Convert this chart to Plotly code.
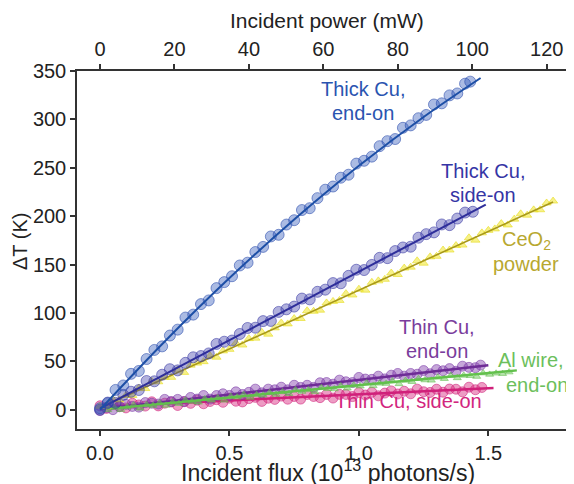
import plotly.graph_objects as go

# ---------------- data ----------------
# Thick Cu, end-on
thick_end_x = [0.00, 0.03, 0.06, 0.09, 0.12, 0.15, 0.18, 0.21, 0.24, 0.27, 0.30, 0.33, 0.36, 0.39, 0.42,
               0.45, 0.48, 0.51, 0.54, 0.57, 0.60, 0.63, 0.66, 0.69, 0.72, 0.75, 0.78, 0.81, 0.84, 0.87,
               0.90, 0.93, 0.96, 0.99, 1.02, 1.05, 1.08, 1.11, 1.14, 1.17, 1.20, 1.23, 1.26, 1.29, 1.32,
               1.35, 1.38, 1.41, 1.43]
thick_end_y = [1.5, 6.7, 20.4, 25.0, 37.0, 40.0, 52.3, 61.7, 65.4, 76.6, 82.7, 95.2, 98.2, 109.1, 112.9,
               125.6, 131.8, 137.9, 149.0, 151.9, 162.9, 168.2, 179.0, 180.7, 191.3, 195.8, 206.3, 208.2,
               218.6, 227.3, 230.6, 239.7, 242.8, 254.3, 257.2, 261.5, 272.3, 277.5, 279.7, 291.3, 293.8,
               301.2, 304.6, 315.4, 316.6, 324.8, 326.8, 336.9, 339.0]
thick_end_fit_x = [0.0, 0.25, 0.5, 0.75, 1.0, 1.25, 1.47]
thick_end_fit_y = [0.0, 70.5, 136.0, 196.5, 252.0, 302.5, 342.8]

# Thick Cu, side-on
thick_side_x = [0.00, 0.03, 0.06, 0.09, 0.12, 0.15, 0.18, 0.21, 0.24, 0.27, 0.30, 0.33, 0.36, 0.39, 0.42,
                0.45, 0.48, 0.51, 0.54, 0.57, 0.60, 0.63, 0.66, 0.69, 0.72, 0.75, 0.78, 0.81, 0.84, 0.87,
                0.90, 0.93, 0.96, 0.99, 1.02, 1.05, 1.08, 1.11, 1.14, 1.17, 1.20, 1.23, 1.26, 1.29, 1.32,
                1.35, 1.38, 1.41, 1.44]
thick_side_y = [0.0, 7.3, 7.0, 15.3, 18.5, 20.3, 29.6, 29.3, 36.1, 41.8, 40.6, 48.4, 54.1, 55.4, 58.1,
                67.9, 70.2, 71.4, 78.2, 84.4, 84.7, 91.5, 91.7, 101.0, 103.7, 106.5, 114.8, 114.0, 121.8,
                124.0, 130.8, 130.6, 138.3, 144.6, 144.3, 149.6, 156.9, 156.6, 163.9, 167.6, 168.4, 177.7,
                181.4, 183.2, 191.4, 190.7, 197.5, 203.7, 204.5]
thick_side_fit_x = [0.0, 1.49]
thick_side_fit_y = [1.0, 212.0]

# CeO2 powder
ceo2_x = [0.000, 0.025, 0.050, 0.075, 0.100, 0.125, 0.150, 0.175, 0.200, 0.225, 0.250, 0.275, 0.300, 0.325,
          0.350, 0.375, 0.400, 0.425, 0.450, 0.475, 0.500, 0.525, 0.550, 0.575, 0.600, 0.625, 0.650, 0.675,
          0.700, 0.725, 0.750, 0.775, 0.800, 0.825, 0.850, 0.875, 0.900, 0.925, 0.950, 0.975, 1.000, 1.025,
          1.050, 1.075, 1.100, 1.125, 1.150, 1.175, 1.200, 1.225, 1.250, 1.275, 1.300, 1.325, 1.350, 1.375,
          1.400, 1.425, 1.450, 1.475, 1.500, 1.525, 1.550, 1.575, 1.600, 1.625, 1.650, 1.675, 1.700, 1.725,
          1.750]
ceo2_y = [3.5, 3.0, 10.6, 10.1, 14.7, 14.7, 22.2, 21.8, 29.3, 28.8, 33.4, 33.4, 41.0, 38.5, 46.0, 48.1,
          49.6, 55.6, 54.2, 60.7, 62.3, 68.8, 66.8, 73.4, 73.9, 79.9, 78.0, 84.5, 89.6, 88.6, 94.1, 94.2,
          102.2, 101.7, 102.8, 110.3, 111.9, 112.9, 119.9, 118.5, 124.5, 123.5, 131.6, 133.1, 134.7, 141.2,
          139.7, 146.3, 147.3, 153.8, 151.4, 157.9, 158.5, 165.0, 165.0, 169.6, 170.1, 177.6, 175.2, 182.7,
          185.3, 186.8, 192.3, 190.9, 196.9, 202.4, 201.0, 206.5, 206.6, 213.6, 215.6]
ceo2_fit_x = [0.0, 1.75]
ceo2_fit_y = [2.0, 214.6]

# Thin Cu, end-on
thin_end_x = [0.000, 0.025, 0.050, 0.075, 0.100, 0.125, 0.150, 0.175, 0.200, 0.225, 0.250, 0.275, 0.300,
              0.325, 0.350, 0.375, 0.400, 0.425, 0.450, 0.475, 0.500, 0.525, 0.550, 0.575, 0.600, 0.625,
              0.650, 0.675, 0.700, 0.725, 0.750, 0.775, 0.800, 0.825, 0.850, 0.875, 0.900, 0.925, 0.950,
              0.975, 1.000, 1.025, 1.050, 1.075, 1.100, 1.125, 1.150, 1.175, 1.200, 1.225, 1.250, 1.275,
              1.300, 1.325, 1.350, 1.375, 1.400, 1.425, 1.450, 1.470]
thin_end_y = [-1.0, 2.3, 0.0, 3.3, 5.5, 3.3, 2.6, 7.3, 6.6, 5.8, 10.6, 8.3, 10.6, 8.4, 12.6, 10.9, 14.6,
              10.9, 14.6, 16.4, 14.7, 18.4, 15.7, 17.9, 21.2, 17.4, 21.2, 20.5, 23.2, 20.5, 25.2, 23.0, 25.2,
              23.0, 27.8, 28.0, 26.3, 30.5, 28.8, 28.0, 33.3, 31.6, 31.3, 34.6, 31.8, 35.6, 37.4, 34.6, 37.4,
              36.6, 40.4, 37.1, 41.4, 40.2, 42.4, 39.7, 44.9, 43.7, 43.4, 46.0]
thin_end_fit_x = [0.0, 1.5]
thin_end_fit_y = [0.5, 45.9]

# Al wire, end-on
al_x = [0.030, 0.055, 0.080, 0.105, 0.130, 0.155, 0.180, 0.205, 0.230, 0.255, 0.280, 0.305, 0.330, 0.355,
        0.380, 0.405, 0.430, 0.455, 0.480, 0.505, 0.530, 0.555, 0.580, 0.605, 0.630, 0.655, 0.680, 0.705,
        0.730, 0.755, 0.780, 0.805, 0.830, 0.855, 0.880, 0.905, 0.930, 0.955, 0.980, 1.005, 1.030, 1.055,
        1.080, 1.105, 1.130, 1.155, 1.180, 1.205, 1.230, 1.255, 1.280, 1.305, 1.330, 1.355, 1.380, 1.405,
        1.430, 1.455, 1.480, 1.505, 1.530, 1.555, 1.580]
al_y = [-0.2, 2.4, 0.0, 2.7, 4.8, 1.4, 5.0, 4.2, 6.8, 4.4, 7.6, 6.2, 9.8, 8.5, 7.6, 11.2, 9.8, 12.0, 9.6,
        13.7, 12.9, 15.5, 12.6, 15.3, 14.9, 17.5, 15.6, 18.3, 16.4, 20.5, 18.7, 20.3, 18.4, 22.6, 21.7, 21.3,
        24.4, 22.1, 25.2, 24.3, 27.5, 24.6, 27.2, 26.9, 29.5, 26.6, 30.2, 28.9, 32.0, 30.6, 30.3, 33.4, 32.0,
        35.2, 32.8, 35.4, 35.0, 34.2, 37.8, 36.4, 37.6, 37.2, 38.8]
al_fit_x = [0.03, 1.61]
al_fit_y = [0.8, 40.6]

# Thin Cu, side-on
thin_side_x = [0.000, 0.025, 0.050, 0.075, 0.100, 0.125, 0.150, 0.175, 0.200, 0.225, 0.250, 0.275, 0.300,
               0.325, 0.350, 0.375, 0.400, 0.425, 0.450, 0.475, 0.500, 0.525, 0.550, 0.575, 0.600, 0.625,
               0.650, 0.675, 0.700, 0.725, 0.750, 0.775, 0.800, 0.825, 0.850, 0.875, 0.900, 0.925, 0.950,
               0.975, 1.000, 1.025, 1.050, 1.075, 1.100, 1.125, 1.150, 1.175, 1.200, 1.225, 1.250, 1.275,
               1.300, 1.325, 1.350, 1.375, 1.400, 1.425, 1.450, 1.475]
thin_side_y = [4.0, 1.3, 5.1, 3.0, 1.8, 6.6, 4.9, 3.7, 8.1, 3.9, 6.7, 8.0, 4.3, 8.2, 6.5, 9.8, 6.1, 8.4,
               10.3, 7.6, 11.9, 8.7, 8.0, 11.4, 12.7, 8.5, 11.8, 10.6, 14.0, 10.8, 13.6, 10.9, 15.7, 13.6, 12.4,
               15.7, 12.0, 15.8, 15.7, 13.5, 17.8, 15.1, 17.9, 14.3, 17.1, 19.4, 16.2, 19.0, 16.4, 21.2, 18.5,
               17.8, 21.1, 18.0, 21.3, 21.1, 18.4, 23.2, 20.6, 22.9]
thin_side_fit_x = [0.0, 1.52]
thin_side_fit_y = [3.0, 22.5]

# axes
flux_ticks = [0.0, 0.5, 1.0, 1.5]
flux_tick_labels = ["0.0", "0.5", "1.0", "1.5"]
power_ticks = [0, 20, 40, 60, 80, 100, 120]
dt_ticks = [0, 50, 100, 150, 200, 250, 300, 350]

FONT = "Liberation Sans, Arial, sans-serif"

fig = go.Figure()

series = [
    (thin_side_x, thin_side_y, thin_side_fit_x, thin_side_fit_y,
     "rgba(215,35,125,0.45)", "rgba(205,30,120,0.55)", "#d0207a", "circle", 10, 2.5),
    (thin_end_x, thin_end_y, thin_end_fit_x, thin_end_fit_y,
     "rgba(128,60,170,0.45)", "rgba(120,55,165,0.55)", "#6e2c96", "circle", 10, 2.5),
    (al_x, al_y, al_fit_x, al_fit_y,
     "rgba(110,200,90,0.5)", "rgba(100,190,80,0.55)", "#62c04c", "triangle-up", 7, 2.5),
    (ceo2_x, ceo2_y, ceo2_fit_x, ceo2_fit_y,
     "rgba(240,230,40,0.55)", "rgba(230,220,30,0.6)", "#a8981a", "triangle-up", 8, 1.6),
    (thick_side_x, thick_side_y, thick_side_fit_x, thick_side_fit_y,
     "rgba(60,60,170,0.4)", "rgba(50,50,160,0.55)", "#2e2e9a", "circle", 11, 2.0),
    (thick_end_x, thick_end_y, thick_end_fit_x, thick_end_fit_y,
     "rgba(45,85,185,0.4)", "rgba(35,70,170,0.55)", "#1d4fa6", "circle", 11, 2.0),
]

for xs, ys, fx, fy, mc, me, lc, sym, sz, lw in series:
    fig.add_trace(go.Scatter(
        x=xs, y=ys, mode="markers",
        marker=dict(color=mc, size=sz, symbol=sym, line=dict(color=me, width=1)),
        showlegend=False, hoverinfo="skip"))
    fig.add_trace(go.Scatter(
        x=fx, y=fy, mode="lines", line=dict(color=lc, width=lw, shape="spline"),
        showlegend=False, hoverinfo="skip"))

# trace anchoring the top (power) axis
fig.add_trace(go.Scatter(x=[power_ticks[0], power_ticks[-1]], y=[-100, -100], xaxis="x2",
                         mode="markers", marker=dict(opacity=0), showlegend=False, hoverinfo="skip"))

labels = [
    ("Thick Cu,", 1.016, 331.0, "#2a54b0"),
    ("end-on", 1.016, 306.6, "#2a54b0"),
    ("Thick Cu,", 1.479, 246.7, "#3535a5"),
    ("side-on", 1.479, 222.0, "#3535a5"),
    ("CeO<sub>2</sub>", 1.647, 174.5, "#b8a830"),
    ("powder", 1.647, 150.7, "#b8a830"),
    ("Thin Cu,", 1.302, 85.7, "#7a3d9c"),
    ("end-on", 1.302, 60.9, "#7a3d9c"),
    ("Al wire,", 1.665, 51.6, "#6cbf5c"),
    ("end-on", 1.688, 25.8, "#6cbf5c"),
    ("Thin Cu, side-on", 1.19, 9.0, "#d2267e"),
]
for txt, lx, ly, col in labels:
    fig.add_annotation(x=lx, y=ly, text=txt, showarrow=False, xanchor="center", yanchor="middle",
                       font=dict(family=FONT, size=20, color=col))

# page body adds an 8 px offset; targets below are in screenshot pixels
OFF = 8
W, H = 574, 484
L, T = 77 - OFF, 71 - OFF
PR, PB = 574 - OFF, 429 - OFF          # plot right / bottom edges in figure pixels
R, B = W - PR, H - PB
pw, ph = PR - L, PB - T


def px_to_paper(px, py):
    return (px - OFF - L) / pw, (PB - (py - OFF)) / ph


tx, ty = px_to_paper(328, 471)
fig.add_annotation(x=tx, y=ty, xref="paper", yref="paper", showarrow=False,
                   text="Incident flux (10<sup>13</sup> photons/s)", xanchor="center", yanchor="middle",
                   font=dict(family=FONT, size=23, color="#222222"))
tx, ty = px_to_paper(327, 20)
fig.add_annotation(x=tx, y=ty, xref="paper", yref="paper", showarrow=False,
                   text="Incident power (mW)", xanchor="center", yanchor="middle",
                   font=dict(family=FONT, size=21, color="#222222"))
tx, ty = px_to_paper(20, 242)
fig.add_annotation(x=tx, y=ty, xref="paper", yref="paper", showarrow=False, textangle=-90,
                   text="ΔT (K)", xanchor="center", yanchor="middle",
                   font=dict(family=FONT, size=20, color="#222222"))

axis_common = dict(showgrid=False, zeroline=False, showline=True, linecolor="#333333", linewidth=1.5,
                   ticks="outside", ticklen=5, tickwidth=1.5, tickcolor="#333333", automargin=False,
                   tickfont=dict(family=FONT, size=20, color="#222222"))

fig.update_layout(
    width=W, height=H,
    margin=dict(l=L, r=R, t=T, b=B, autoexpand=False),
    paper_bgcolor="white", plot_bgcolor="white",
    xaxis=dict(range=[-0.0888, 1.8308], tickvals=flux_ticks, ticktext=flux_tick_labels, **axis_common),
    xaxis2=dict(range=[-6.18, 127.33], tickvals=power_ticks, overlaying="x", side="top", **axis_common),
    yaxis=dict(range=[-20, 350], tickvals=dt_ticks, **axis_common),
)

fig.write_html("out.html")
